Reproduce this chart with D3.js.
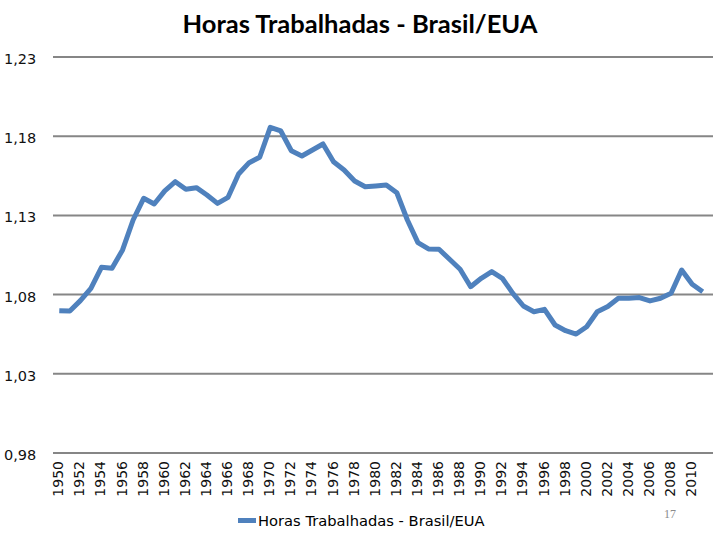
<!DOCTYPE html>
<html>
<head>
<meta charset="utf-8">
<script src="https://cdn.jsdelivr.net/npm/d3@7"></script>
<style>
  body { margin: 0; background: #fff; }
  svg { display: block; }
</style>
</head>
<body>
<div id="vis1"></div>
<script>
// Data
const YEARS = d3.range(1950, 2012);
const HOURS_RATIO = [
  1.0698, 1.0696, 1.0762, 1.0840, 1.0972, 1.0966, 1.1082, 1.1271, 1.1408, 1.1372,
  1.1455, 1.1513, 1.1465, 1.1475, 1.1429, 1.1376, 1.1414, 1.1561, 1.1633, 1.1667,
  1.1856, 1.1833, 1.1708, 1.1675, 1.1713, 1.1751, 1.1639, 1.1587, 1.1517, 1.1481,
  1.1486, 1.1492, 1.1443, 1.1271, 1.1128, 1.1088, 1.1086, 1.1023, 1.0960, 1.0850,
  1.0903, 1.0945, 1.0903, 1.0808, 1.0728, 1.0692, 1.0707, 1.0608, 1.0572, 1.0551,
  1.0597, 1.0692, 1.0725, 1.0777, 1.0777, 1.0781, 1.0760, 1.0777, 1.0808, 1.0955,
  1.0865, 1.0818
];
const Y_TICKS = [0.98, 1.03, 1.08, 1.13, 1.18, 1.23];
const X_LABELS = YEARS.filter(y => y % 2 === 0 && y <= 2010);
const TITLE = "Horas Trabalhadas - Brasil/EUA";
const SERIES_NAME = "Horas Trabalhadas - Brasil/EUA";
const PAGE_NUMBER = "17";

// Frame constants
const FRAME_WIDTH = 720;
const FRAME_HEIGHT = 540;
const PLOT = {left: 54, right: 708, top: 57, bottom: 453};
const GRID_RIGHT = 713;
const LINE_COLOR = "#4f81bd";

const X_SCALE = d3.scaleBand()
    .domain(YEARS)
    .range([PLOT.left, PLOT.right]);
const Y_SCALE = d3.scaleLinear()
    .domain([0.98, 1.23])
    .range([PLOT.bottom, PLOT.top]);

const FRAME1 = d3.select("#vis1")
    .append("svg")
    .attr("width", FRAME_WIDTH)
    .attr("height", FRAME_HEIGHT);

// title
FRAME1.append("text")
    .attr("x", 360)
    .attr("y", 33)
    .attr("text-anchor", "middle")
    .attr("font-family", "Lato, 'Open Sans', sans-serif")
    .attr("font-weight", "bold")
    .attr("font-size", "25.5px")
    .attr("fill", "#000")
    .text(TITLE);

// horizontal gridlines + y labels
FRAME1.selectAll(".grid")
    .data(Y_TICKS)
    .enter()
    .append("line")
    .attr("x1", PLOT.left - 1)
    .attr("x2", GRID_RIGHT)
    .attr("y1", (d) => Y_SCALE(d))
    .attr("y2", (d) => Y_SCALE(d))
    .attr("stroke", "#868686")
    .attr("stroke-width", 2);

FRAME1.selectAll(".ylab")
    .data(Y_TICKS)
    .enter()
    .append("text")
    .attr("x", 4)
    .attr("y", (d) => Y_SCALE(d) + 7)
    .attr("font-family", "'DejaVu Sans', sans-serif")
    .attr("font-size", "14.5px")
    .attr("fill", "#111")
    .text((d) => d3.format(".2f")(d).replace(".", ","));

// rotated year labels
FRAME1.selectAll(".xlab")
    .data(X_LABELS)
    .enter()
    .append("text")
    .attr("transform", (d) => "translate(" + (X_SCALE(d) + X_SCALE.bandwidth() / 2 + 4) + ",461) rotate(-90)")
    .attr("text-anchor", "end")
    .attr("font-family", "'DejaVu Sans', sans-serif")
    .attr("font-size", "14px")
    .attr("fill", "#111")
    .text((d) => d);

// the series line
const LINE = d3.line()
    .x((d, i) => X_SCALE(YEARS[i]) + X_SCALE.bandwidth() / 2)
    .y((d) => Y_SCALE(d));

FRAME1.append("path")
    .datum(HOURS_RATIO)
    .attr("d", LINE)
    .attr("fill", "none")
    .attr("stroke", LINE_COLOR)
    .attr("stroke-width", 5)
    .attr("stroke-linejoin", "round");

// legend
FRAME1.append("rect")
    .attr("x", 238)
    .attr("y", 518)
    .attr("width", 18)
    .attr("height", 5)
    .attr("fill", LINE_COLOR);
FRAME1.append("text")
    .attr("x", 258)
    .attr("y", 526)
    .attr("font-family", "'DejaVu Sans', sans-serif")
    .attr("font-size", "14.7px")
    .attr("fill", "#000")
    .text(SERIES_NAME);

// slide number
FRAME1.append("text")
    .attr("x", 670)
    .attr("y", 518)
    .attr("text-anchor", "middle")
    .attr("font-family", "'Liberation Serif', serif")
    .attr("font-size", "12px")
    .attr("fill", "#8a8a8a")
    .text(PAGE_NUMBER);
</script>
</body>
</html>
